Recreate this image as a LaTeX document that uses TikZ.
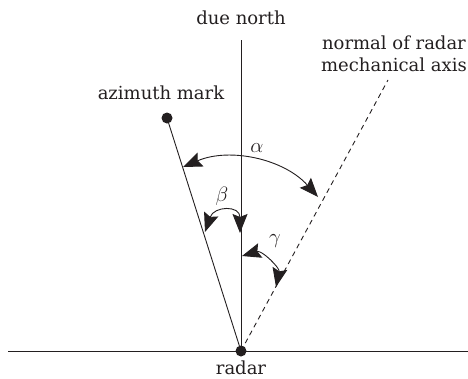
\documentclass[tikz,border=0pt]{standalone}
\usepackage{fontspec}
\setmainfont{DejaVu Serif}
\usetikzlibrary{arrows.meta}
\definecolor{ink}{HTML}{231F20}
\begin{document}
\begin{tikzpicture}[x=1pt,y=-1pt,line width=0.9pt,draw=ink,text=ink,
  dot/.style={circle,fill=ink,inner sep=0pt,minimum size=11pt},
  lbl/.style={inner sep=0pt,font=\fontsize{18}{22}\selectfont},
  glbl/.style={inner sep=0pt,font=\fontsize{22}{24}\selectfont},
  angarrow/.style={{Stealth[length=19pt,width=15pt,inset=3pt]}-{Stealth[length=19pt,width=15pt,inset=3pt]}},
  axis/.style={dash pattern=on 5pt off 4pt}]
\useasboundingbox (0,0) rectangle (468,378);
% points
\node[dot] (radar) at (241,351) {};
\node[dot] (mark) at (167,118) {};
\coordinate (N) at (241,40);
\coordinate (D) at (388,80);
\coordinate (HL) at (8,351);
\coordinate (HR) at (468,351);
% lines
\draw (HL) -- (HR);
\draw (radar.center) -- (N);
\draw (radar.center) -- (mark.center);
\draw[axis] (radar.center) -- (D);
% labels
\node[lbl] (north) at (241,18) {due north};
\node[lbl,align=center] (normal) at (394,54) {normal of radar\\mechanical axis};
\node[lbl] (azlabel) at (161,93) {azimuth mark};
\node[lbl] (radarlabel) at (241,368) {radar};
% angle arcs
\coordinate (a1) at (183,167);
\coordinate (a2) at (318,197);
\draw[angarrow] (a1) .. controls (229.8,147) and (284.1,159) .. (a2);
\node[glbl] (alpha) at (257,148) {$\alpha$};
\coordinate (b1) at (205,232);
\coordinate (b2) at (240,233);
\draw[angarrow] (b1) .. controls (214,206) and (240,205) .. (b2);
\node[glbl] (beta) at (222,196) {$\beta$};
\coordinate (c1) at (242,256);
\coordinate (c2) at (276,287);
\draw[angarrow] (c1) .. controls (262,250) and (280,268) .. (c2);
\node[glbl] (gamma) at (275,241) {$\gamma$};
\end{tikzpicture}
\end{document}
